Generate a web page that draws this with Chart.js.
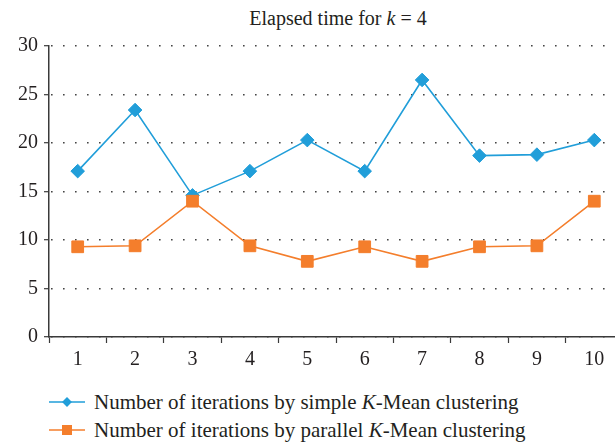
<!DOCTYPE html>
<html>
<head>
<meta charset="utf-8">
<script src="https://cdn.jsdelivr.net/npm/chart.js@4.4.1/dist/chart.umd.min.js"></script>
<style>
  html, body { margin: 0; padding: 0; background: #fff; overflow: hidden; width: 615px; height: 443px; }
  body { position: relative; font-family: "Liberation Serif", "DejaVu Serif", serif; color: #231f20; }
  #wrap { position: absolute; left: 0; top: 0; width: 640px; height: 370px; }
  #title { position: absolute; top: 7px; left: 0; width: 676px; text-align: center; font-size: 20px; }
  #legend { position: absolute; left: 49px; top: 388px; font-size: 21px; line-height: 28px; }
  #legend div { white-space: nowrap; }
  #legend svg { vertical-align: middle; margin-right: 9px; position: relative; top: -2px; }
</style>
</head>
<body>
<div id="title">Elapsed time for <i>k</i> = 4</div>
<div id="wrap"><canvas id="chart"></canvas></div>
<div id="legend">
  <div><svg width="36" height="12"><line x1="0" y1="6" x2="36" y2="6" stroke="#219ed9" stroke-width="1.6"/><rect x="14.5" y="2.5" width="7" height="7" fill="#219ed9" transform="rotate(45 18 6)"/></svg>Number of iterations by simple <i>K</i>-Mean clustering</div>
  <div><svg width="36" height="12"><line x1="0" y1="6" x2="36" y2="6" stroke="#f47e2c" stroke-width="1.6"/><rect x="13" y="1" width="10" height="10" fill="#f47e2c"/></svg>Number of iterations by parallel <i>K</i>-Mean clustering</div>
</div>
<script>
const runs = ['1', '2', '3', '4', '5', '6', '7', '8', '9', '10'];
const simpleKMean = [17.1, 23.4, 14.6, 17.1, 20.3, 17.1, 26.5, 18.7, 18.8, 20.3];
const parallelKMean = [9.3, 9.4, 14.0, 9.4, 7.8, 9.3, 7.8, 9.3, 9.4, 14.0];
const yTicks = [0, 5, 10, 15, 20, 25, 30];

const blue = '#219ed9';
const orange = '#f47e2c';
const axisColor = '#3a3a3a';
const fontFamily = '"Liberation Serif", "DejaVu Serif", serif';

const canvas = document.getElementById('chart');
canvas.width = 640;
canvas.height = 370;

new Chart(canvas, {
    type: 'line',
    data: {
        labels: runs,
        datasets: [
            {
                label: 'Number of iterations by simple K-Mean clustering',
                data: simpleKMean,
                borderColor: blue,
                backgroundColor: blue,
                borderWidth: 1.6,
                pointStyle: 'rectRot',
                pointRadius: 6.8,
                pointBorderWidth: 1,
                tension: 0,
                order: 1
            },
            {
                label: 'Number of iterations by parallel K-Mean clustering',
                data: parallelKMean,
                borderColor: orange,
                backgroundColor: orange,
                borderWidth: 1.6,
                pointStyle: 'rect',
                pointRadius: 8.3,
                pointBorderWidth: 1,
                tension: 0,
                order: 0
            }
        ]
    },
    options: {
        responsive: false,
        animation: false,
        devicePixelRatio: 1,
        layout: { padding: { top: 46, right: 17, left: 0, bottom: 0 } },
        plugins: {
            legend: { display: false },
            title: { display: false },
            tooltip: { enabled: false }
        },
        scales: {
            x: {
                type: 'category',
                offset: true,
                border: { color: axisColor, width: 1.5 },
                grid: {
                    offset: true,
                    drawOnChartArea: false,
                    drawTicks: true,
                    tickLength: 6,
                    tickColor: axisColor,
                    tickWidth: 1.2
                },
                ticks: {
                    color: '#231f20',
                    font: { family: fontFamily, size: 20 },
                    padding: 5,
                    maxRotation: 0
                },
                afterFit: scale => { scale.height = 33; }
            },
            y: {
                min: 0,
                max: 30,
                afterBuildTicks: scale => { scale.ticks = yTicks.map(v => ({ value: v })); },
                border: { color: axisColor, width: 1.5, dash: [1.6, 10.4], dashOffset: -1.5 },
                grid: {
                    color: '#444',
                    lineWidth: 1.4,
                    drawTicks: true,
                    tickLength: 5,
                    tickColor: axisColor,
                    tickWidth: 1.2,
                    tickBorderDash: []
                },
                ticks: {
                    color: '#231f20',
                    font: { family: fontFamily, size: 20 },
                    padding: 6
                },
                afterFit: scale => { scale.width = 49; }
            }
        }
    }
});
</script>
</body>
</html>
